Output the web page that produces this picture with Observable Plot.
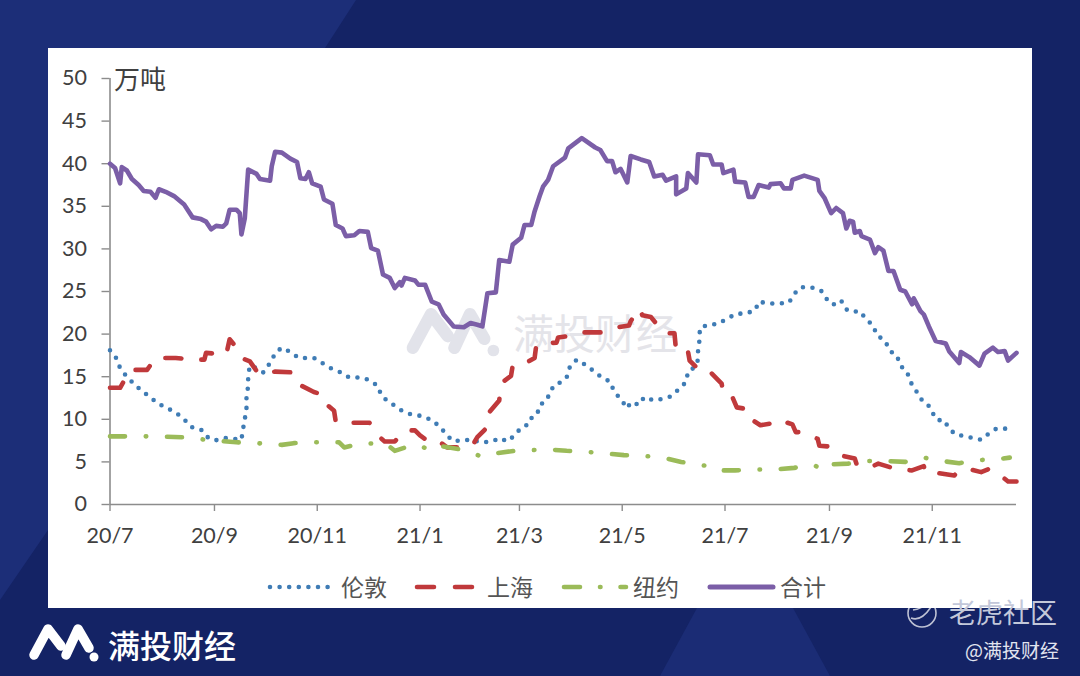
<!DOCTYPE html>
<html><head><meta charset="utf-8">
<script src="https://cdn.jsdelivr.net/npm/d3@7"></script>
<script src="https://cdn.jsdelivr.net/npm/@observablehq/plot@0.6"></script>
<style>
html,body{margin:0;padding:0;width:1080px;height:676px;overflow:hidden;background:#142365;}
#bg{position:absolute;left:0;top:0;}
#panel{position:absolute;left:48px;top:48px;width:984px;height:560px;background:#fff;}
#chart{position:absolute;left:48px;top:48px;width:984px;height:560px;}
#chart svg{background:transparent;display:block;}
.t{position:absolute;white-space:nowrap;font-family:"Noto Sans CJK SC";line-height:1;}
#legend{position:absolute;left:0;top:0;}
</style></head><body>
<svg id="bg" width="1080" height="676">
  <polygon points="0,0 356,0 325,48 48,48 48,530 0,600" fill="#1c2e78"/>
  <polygon points="697,608 793,608 830,676 660,676" fill="#1b2c75"/>
</svg>
<div id="panel"></div>
<svg id="wm" width="1080" height="676" style="position:absolute;left:0;top:0">
  <g transform="translate(405,305) scale(1.3)" fill="none" stroke="#e2e3ea" stroke-width="9.5" stroke-linecap="round" stroke-linejoin="round">
    <polyline points="6,33 20,7 33,24"/><polyline points="38,33 50,7 61,26"/><circle cx="68" cy="35" r="4.5" fill="#e2e3ea" stroke="none"/>
  </g>
</svg>
<div class="t" style="left:513px;top:311px;font-size:41px;color:#e4e4e9">满投财经</div>
<div id="chart"></div>
<svg id="legend" width="1080" height="676">
  <line x1="270" x2="330" y1="587" y2="587" stroke="#3f7cb5" stroke-width="4.6" stroke-linecap="round" stroke-dasharray="0 9.6"/>
  <line x1="417" x2="473" y1="587" y2="587" stroke="#c0393b" stroke-width="4.6" stroke-linecap="round" stroke-dasharray="17 21"/>
  <line x1="564" x2="626" y1="587" y2="587" stroke="#9bbb59" stroke-width="4.6" stroke-linecap="round" stroke-dasharray="16 20 0.5 20 6 20"/>
  <line x1="710" x2="773" y1="587" y2="587" stroke="#7b5ea7" stroke-width="5" stroke-linecap="round"/>
  <g fill="none" stroke="#fff" stroke-width="1.6" opacity=".72">
    <circle cx="922" cy="613" r="14"/>
    <path d="M911,618 q10,4 20,-11 M913,610 q8,-1 14,-6"/>
  </g>
  <g transform="translate(28,622)" fill="none" stroke="#fff" stroke-width="9.5" stroke-linecap="round" stroke-linejoin="round">
    <polyline points="6,33 20,7 33,24"/><polyline points="38,33 50,7 61,26"/><circle cx="66" cy="35" r="4.5" fill="#fff" stroke="none"/>
  </g>
</svg>
<div class="t" style="left:341px;top:575px;font-size:23px;color:#555">伦敦</div>
<div class="t" style="left:487px;top:575px;font-size:23px;color:#555">上海</div>
<div class="t" style="left:633px;top:575px;font-size:23px;color:#555">纽约</div>
<div class="t" style="left:780px;top:575px;font-size:23px;color:#555">合计</div>
<div class="t" style="left:108px;top:628px;font-size:32px;color:#fff;font-weight:500">满投财经</div>
<div class="t" style="left:949px;top:598px;font-size:27px;color:#c3c8da">老虎社区</div>
<div class="t" style="left:965px;top:640px;font-size:19px;color:#e2e5f0">@满投财经</div>
<script>
const origin = Date.UTC(2020, 6, 1);
const dayMs = 86400000;
const axisEnd = 538;
const tickYears = [2020,2020,2020,2021,2021,2021,2021,2021,2021];
const tickMonths = [6,8,10,0,2,4,6,8,10];
const tickLabels = ["20/7","20/9","20/11","21/1","21/3","21/5","21/7","21/9","21/11"];
const yTicks = [0,5,10,15,20,25,30,35,40,45,50];

const londonDays = [0,4,6,10,14,19,24,28,34,39,44,48,54,58,62,68,74,78,79,80,81,81,82,82,83,87,91,96,98,102,107,112,121,126,131,137,142,149,154,159,161,165,169,174,180,185,191,196,200,204,210,216,221,227,231,236,240,244,249,251,255,257,261,263,268,271,273,277,283,288,292,297,299,303,307,309,314,317,323,328,333,338,342,343,347,349,349,350,350,355,361,366,372,377,383,385,391,397,403,406,410,416,422,425,428,432,434,437,440,445,449,453,455,460,463,467,469,473,475,478,481,485,488,491,495,498,502,508,512,517,522,526,533];
const londonValues = [18.1,17.1,16,15,14.2,13.3,12.6,11.9,11.3,10.8,10,9.1,8.8,7.9,7.5,7.8,7.7,7.6,8.9,10,11.3,12.6,13.9,15.1,16.3,16,15.5,16.9,17.8,18.4,17.9,17.2,17.2,16.6,16,15.5,14.9,14.9,14.6,13.9,12.8,12.1,11.6,10.9,10.5,10.4,9.9,9.1,8.1,7.4,7.6,7.5,7.3,7.4,7.8,7.4,8.1,9,9.5,10.6,11,12.2,12.8,13.9,14.4,14.9,16.2,17,16.3,15.5,14.9,14.4,13.3,12.4,11.3,12,11.7,12.6,12.2,12.4,12.7,13.6,14.4,15.6,16.1,17,18.3,19.4,20.7,21.1,21.2,21.8,22.4,22.4,22.8,23.8,23.6,23.6,23.7,24.7,25.5,25.5,25.1,24.2,23.5,23.5,23.9,22.9,22.6,22.7,21.7,21,19.9,19.2,18,17.5,16.3,15.6,14.4,13.5,12.4,11.9,10.8,9.9,9.9,8.9,8.2,8,7.8,7.6,8.4,8.9,8.9];

const shanghaiDays = [0,6,8,12,22,27,39,49,56,57,69,71,78,79,83,88,98,109,113,121,126,127,133,134,138,147,154,155,160,163,169,175,181,184,191,196,200,211,215,218,224,225,231,232,238,239,244,252,253,257,265,266,273,279,293,301,308,309,314,316,321,326,329,335,336,343,344,349,351,357,363,364,369,372,378,379,386,392,396,405,407,412,420,421,427,434,442,443,450,456,466,476,483,484,491,501,504,509,517,522,526,533,538];
const shanghaiValues = [13.7,13.7,14.4,15.8,15.8,17.2,17.2,17,17,17.8,17.6,19.4,17.7,17.1,16.8,15.4,15.6,15.5,14,13.2,12.9,12,11,9.7,9.6,9.6,9.6,9.2,7.9,7.4,7.4,8.7,8.7,8.1,7.1,7.3,6.7,6.7,6.9,7.9,9.1,10.8,12.2,14.2,15.1,16.3,16.3,17.2,18.7,18.9,19,19.6,19.8,20.2,20.2,20.8,21,21.5,23,22.2,22,20.8,20.1,20.1,18,18,16.9,15.9,15.4,15.4,14.2,13,12.8,11.4,11.2,10.2,9.3,9.5,10,9.4,8.5,8.5,7.7,6.9,6.8,5.75,5.4,4.8,4.25,4.8,4.2,4,4.5,3.7,3.7,3.4,4,4.2,3.8,4.2,3.8,2.7,2.7];

const newYorkDays = [0,11,22,43,57,75,87,102,109,121,136,139,150,164,169,180,192,195,210,221,229,240,253,261,271,282,293,305,317,328,339,351,357,361,371,382,394,406,417,424,426,438,448,460,472,483,494,504,514,526,534];
const newYorkValues = [8,8,8,7.9,7.6,7.3,7.2,7,7.2,7.3,7.3,6.7,7.2,7.1,6.3,7,6.4,6.9,6.4,5.6,6,6.3,6.4,6.45,6.3,6.2,6,5.8,5.7,5.5,5,4.6,4.5,4,4,4.1,4.1,4.3,4.65,4.1,4.7,4.8,5.1,5.1,5,5.5,5.1,4.85,5.2,5.3,5.5];

const totalDays = [0,3,6,7,10,13,17,20,24,27,29,33,38,44,49,54,57,60,63,67,69,71,75,77,78,80,82,87,89,95,96,98,102,107,111,113,116,118,120,125,127,132,134,138,140,145,148,153,155,159,162,166,169,172,173,175,181,183,187,191,195,198,204,210,214,218,221,224,229,231,237,239,244,246,250,252,255,257,260,263,270,272,280,288,291,295,298,300,303,307,309,315,320,323,328,330,336,336,342,343,348,349,356,358,363,364,370,371,377,379,382,385,391,392,398,400,404,405,412,420,421,424,428,431,435,437,439,441,442,445,446,451,454,456,459,462,465,469,472,476,477,481,483,486,490,496,498,504,505,510,516,519,524,527,531,533,538];
const totalValues = [40,39.5,37.7,39.6,39.2,38.2,37.5,36.8,36.7,36,37,36.7,36.2,35.2,33.7,33.5,33.2,32.3,32.7,32.6,33,34.6,34.6,34.2,31.7,33.6,39.3,38.8,38.2,38,39.7,41.4,41.3,40.6,40.2,38.3,38.2,39,37.7,37.3,35.8,35.3,32.8,32.4,31.5,31.6,32.1,32,30.1,29.8,27,26.6,25.4,26.1,25.7,26.6,26.3,25.8,25.8,23.8,23.5,22.3,20.9,20.8,21.3,21.1,20.9,24.8,24.9,28.7,28.5,30.5,31.3,32.8,32.8,34.4,36.2,37.3,38.1,39.7,40.7,41.8,43,41.9,41.6,40.3,40.3,39,39.4,37.8,40.9,40.5,40.2,38.5,38.7,38,38.5,36.4,37.1,38.9,37.8,41.1,41,39.9,39.9,38.9,39.3,37.9,37.8,36.1,36.1,37.5,37.2,37.6,37.7,37.1,37.1,38.1,38.6,38.1,36.8,36,34.2,34.8,34.2,32.4,33.3,33.2,31.9,32.1,31.5,31.1,29.5,30.2,29.8,27.4,27.4,25.2,25,23.5,24.2,22.7,22.3,20.9,19.2,18.9,18,16.6,17.9,17.3,16.3,17.7,18.4,17.9,18,16.9,17.8];

const toDate = d => new Date(origin + d * dayMs);
const table = (days, values) => days.map((d, i) => ({date: toDate(d), value: values[i]}));
const tickDates = tickYears.map((y, i) => new Date(Date.UTC(y, tickMonths[i], 1)));
const labelOf = new Map(tickDates.map((d, i) => [+d, tickLabels[i]]));

const chart = Plot.plot({
  width: 984, height: 560,
  marginLeft: 61.5, marginRight: 16, marginTop: 30, marginBottom: 104,
  style: {background: "transparent", fontFamily: "Lato", overflow: "visible"},
  x: {type: "utc", domain: [toDate(0), toDate(axisEnd)]},
  y: {domain: [0, 50]},
  marks: [
    Plot.ruleX([toDate(0)], {stroke: "#8c8c8c", strokeWidth: 1.6}),
    Plot.ruleY([0], {stroke: "#8c8c8c", strokeWidth: 1.6}),
    Plot.axisY({ticks: yTicks, tickSize: 8, tickPadding: 15, stroke: "#8c8c8c", strokeWidth: 1.4, fill: "#404040", fontSize: 21.5, label: null, tickFormat: d => d}),
    Plot.axisX({ticks: tickDates, tickSize: 7, tickPadding: 16, stroke: "#8c8c8c", strokeWidth: 1.4, fill: "#404040", fontSize: 21.5, label: null, tickFormat: d => labelOf.get(+d)}),
    Plot.line(table(londonDays, londonValues), {x: "date", y: "value", stroke: "#3f7cb5", strokeWidth: 4.6, strokeLinecap: "round", strokeDasharray: "0,9.6"}),
    Plot.line(table(shanghaiDays, shanghaiValues), {x: "date", y: "value", stroke: "#c0393b", strokeWidth: 4.6, strokeLinecap: "round", strokeLinejoin: "round", strokeDasharray: "16,20"}),
    Plot.line(table(newYorkDays, newYorkValues), {x: "date", y: "value", stroke: "#9bbb59", strokeWidth: 4.6, strokeLinecap: "round", strokeDasharray: "15,20.75,0.5,20.75"}),
    Plot.line(table(totalDays, totalValues), {x: "date", y: "value", stroke: "#7b5ea7", strokeWidth: 4.6, strokeLinejoin: "round"}),
    Plot.text(["万吨"], {x: () => toDate(0), y: () => 50, dx: 4, dy: 2, text: d => d, textAnchor: "start", fontFamily: "Noto Sans CJK SC", fontSize: 26, fill: "#404040"})
  ]
});
document.getElementById("chart").appendChild(chart);
</script>
</body></html>
